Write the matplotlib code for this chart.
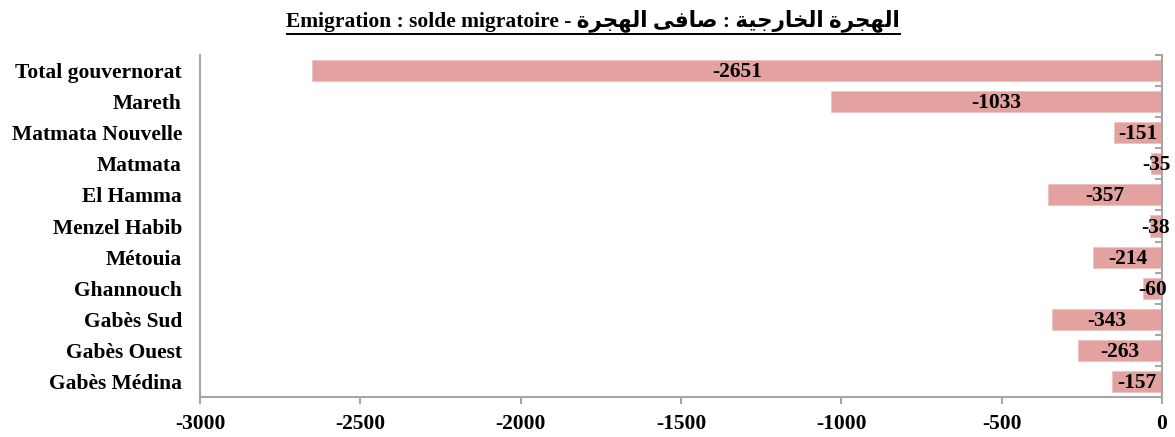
import matplotlib
matplotlib.use("Agg")
import matplotlib.pyplot as plt
from matplotlib.lines import Line2D
import numpy as np

plt.rcParams["font.family"] = ["Liberation Serif", "DejaVu Sans"]
plt.rcParams["font.weight"] = "bold"

delegations = ["Total gouvernorat", "Mareth", "Matmata Nouvelle", "Matmata",
               "El Hamma", "Menzel Habib", "Métouia", "Ghannouch",
               "Gabès Sud", "Gabès Ouest", "Gabès Médina"]
solde = [-2651, -1033, -151, -35, -357, -38, -214, -60, -343, -263, -157]
x_ticks = [-3000, -2500, -2000, -1500, -1000, -500, 0]

# Arabic part written in visual order with presentation forms (no shaping in mpl)
ar_hijra = "\uFE93\uFEAE\uFEA0\uFEEC\uFEDF\uFE8D"
ar_safi = "\uFEF0\uFED3\uFE8E\uFEBB"
ar_kharijiya = "\uFE94\uFEF4\uFE9F\uFEAD\uFE8E\uFEA8\uFEDF\uFE8D"
title = ("Emigration : solde migratoire - "
         + ar_hijra + " " + ar_safi + " : " + ar_kharijiya + " " + ar_hijra)

bar_color = "#E3A1A0"
axis_color = "#A6A6A6"
fs = 15.5

fig = plt.figure(figsize=(11.75, 4.37), dpi=100)
ax = fig.add_axes([200 / 1175, 1 - 397 / 437, 962 / 1175, 342 / 437])

y = np.arange(len(delegations))
ax.barh(y, solde, height=0.68, color=bar_color, edgecolor="#EDC3C2", linewidth=0.6)
for yi, v in zip(y, solde):
    ax.text(v / 2, yi + 0.05, str(v), ha="center", va="center", fontsize=fs,
            fontweight="bold", color="black")

ax.set_xlim(-3000, 0)
ax.set_ylim(len(delegations) - 0.5, -0.5)
ax.set_xticks(x_ticks)
ax.set_xticklabels([str(t) for t in x_ticks], fontsize=fs, fontweight="bold")
ax.set_yticks(y)
ax.set_yticklabels(delegations, fontsize=fs, fontweight="bold")
ax.set_yticks(np.arange(-0.5, len(delegations), 1.0), minor=True)

ax.tick_params(axis="y", which="major", length=0, pad=13)
ax.tick_params(axis="y", which="minor", left=False, right=True, direction="in",
               length=5, width=1.5, color=axis_color)
ax.tick_params(axis="x", which="major", length=5, width=1.5, color=axis_color, pad=7)

ax.spines["top"].set_visible(False)
for side in ["left", "bottom", "right"]:
    ax.spines[side].set_color(axis_color)
    ax.spines[side].set_linewidth(1.5)

t = fig.text(0.505, 1 - 21 / 437, title, ha="center", va="center",
             fontsize=fs, fontweight="bold")
fig.canvas.draw()
bb = t.get_window_extent(fig.canvas.get_renderer())
fig_w, fig_h = fig.bbox.width, fig.bbox.height
uy = (bb.y0 - 1.5) / fig_h
fig.add_artist(Line2D([bb.x0 / fig_w, bb.x1 / fig_w], [uy, uy],
                      color="black", linewidth=1.4, transform=fig.transFigure))

fig.savefig("out.png", dpi=100)
